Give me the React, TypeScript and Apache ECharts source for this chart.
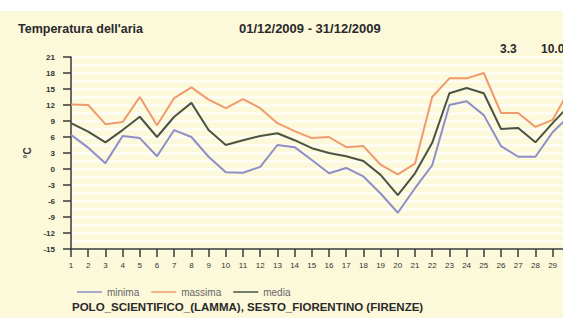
import React, { useEffect, useRef } from 'react';
import * as echarts from 'echarts';

const days = ['1','2','3','4','5','6','7','8','9','10','11','12','13','14','15','16','17','18','19','20','21','22','23','24','25','26','27','28','29','30','31'];
const minima = [6.4,4.0,1.1,6.2,5.8,2.4,7.3,6.0,2.3,-0.6,-0.7,0.4,4.5,4.1,1.7,-0.8,0.2,-1.4,-4.6,-8.2,-3.6,0.7,12.0,12.7,10.1,4.3,2.3,2.3,6.9,10.0,9.0];
const massima = [12.1,12.0,8.4,8.8,13.5,8.2,13.3,15.3,13.0,11.4,13.1,11.4,8.6,7.1,5.8,6.0,4.1,4.3,0.8,-1.0,1.0,13.5,17.0,17.0,18.0,10.5,10.5,7.9,9.2,15.0,14.0];
const media = [8.6,7.0,5.0,7.3,9.8,6.0,9.8,12.4,7.3,4.5,5.4,6.2,6.7,5.4,3.9,3.0,2.4,1.5,-1.1,-4.9,-0.8,4.9,14.2,15.2,14.2,7.5,7.7,5.0,8.6,12.0,11.0];
const seriesNames = ['minima','massima','media'];
const summary = ['3.3','10.0'];
const title = "Temperatura dell'aria";
const period = '01/12/2009 - 31/12/2009';
const station = 'POLO_SCIENTIFICO_(LAMMA), SESTO_FIORENTINO (FIRENZE)';

const FONT = '"Liberation Sans", Arial, sans-serif';

export default function App() {
  const ref = useRef<HTMLDivElement>(null);
  useEffect(() => {
    if (!ref.current) return;
    const chart = echarts.init(ref.current, undefined, { renderer: 'svg' });
    const axisColor = '#3a3a36';
    chart.setOption({
      animation: false,
      backgroundColor: '#fcf8da',
      textStyle: { fontFamily: FONT },
      grid: { left: 71, right: 33, top: 57, bottom: 69 },
      graphic: [
        { type: 'rect', left: 0, top: 0, shape: { width: 620, height: 11 }, style: { fill: '#ffffff' }, z: -1 },
        { type: 'text', left: 18, top: 22, style: { text: title, font: `bold 12.5px ${FONT}`, fill: '#2a2a2a' } },
        { type: 'text', left: 239, top: 22, style: { text: period, font: `bold 13px ${FONT}`, fill: '#2a2a2a' } },
        { type: 'text', left: 500, top: 43, style: { text: summary[0], font: `bold 12px ${FONT}`, fill: '#2a2a2a' } },
        { type: 'text', left: 541, top: 43, style: { text: summary[1], font: `bold 12px ${FONT}`, fill: '#2a2a2a' } },
        { type: 'text', left: 72, top: 301, style: { text: station, font: `bold 11.5px ${FONT}`, fill: '#2a2a2a' } },
      ],
      legend: {
        left: 72, top: 282, icon: 'rect', itemWidth: 25, itemHeight: 1.5, itemGap: 12,
        textStyle: { fontSize: 10, color: '#666', fontFamily: FONT },
        data: seriesNames,
      },
      xAxis: {
        type: 'category', data: days, boundaryGap: false,
        axisLine: { onZero: false, lineStyle: { color: axisColor, width: 1.5 } },
        axisTick: { show: true, interval: 0, length: 8, lineStyle: { color: axisColor, width: 1.5 } },
        axisLabel: { interval: 0, fontSize: 8, color: '#333', margin: 12, fontFamily: FONT,
          formatter: (v: string, i: number) => (i < 29 ? v : '') },
        splitLine: { show: false },
      },
      yAxis: {
        type: 'value', min: -15, max: 21, interval: 3,
        name: '°C', nameLocation: 'middle', nameRotate: 90, nameGap: 24,
        nameTextStyle: { fontSize: 10, fontWeight: 'bold', color: '#333', fontFamily: FONT },
        axisLine: { show: true, lineStyle: { color: axisColor, width: 1.5 } },
        axisTick: { show: true, length: 8, lineStyle: { color: axisColor, width: 1.5 } },
        axisLabel: { fontSize: 8, fontWeight: 'bold', color: '#333', margin: 16, fontFamily: FONT },
        splitLine: { show: true, lineStyle: { color: 'rgba(255,255,255,0.6)', width: 3 } },
        minorTick: { show: false, splitNumber: 2 },
        minorSplitLine: { show: true, lineStyle: { color: 'rgba(255,255,255,0.6)', width: 3 } },
      },
      series: [
        { name: seriesNames[0], type: 'line', data: minima, symbol: 'none', lineStyle: { color: '#8d8fc6', width: 2 }, itemStyle: { color: '#8d8fc6' } },
        { name: seriesNames[1], type: 'line', data: massima, symbol: 'none', lineStyle: { color: '#ef9b6c', width: 2 }, itemStyle: { color: '#ef9b6c' } },
        { name: seriesNames[2], type: 'line', data: media, symbol: 'none', lineStyle: { color: '#4b5344', width: 2 }, itemStyle: { color: '#4b5344' } },
      ],
    });
    return () => chart.dispose();
  }, []);
  return (
    <div style={{ position: 'fixed', left: 0, top: 0, width: 563, height: 318, overflow: 'hidden', background: '#fff' }}>
      <div ref={ref} style={{ width: 620, height: 318 }} />
    </div>
  );
}
